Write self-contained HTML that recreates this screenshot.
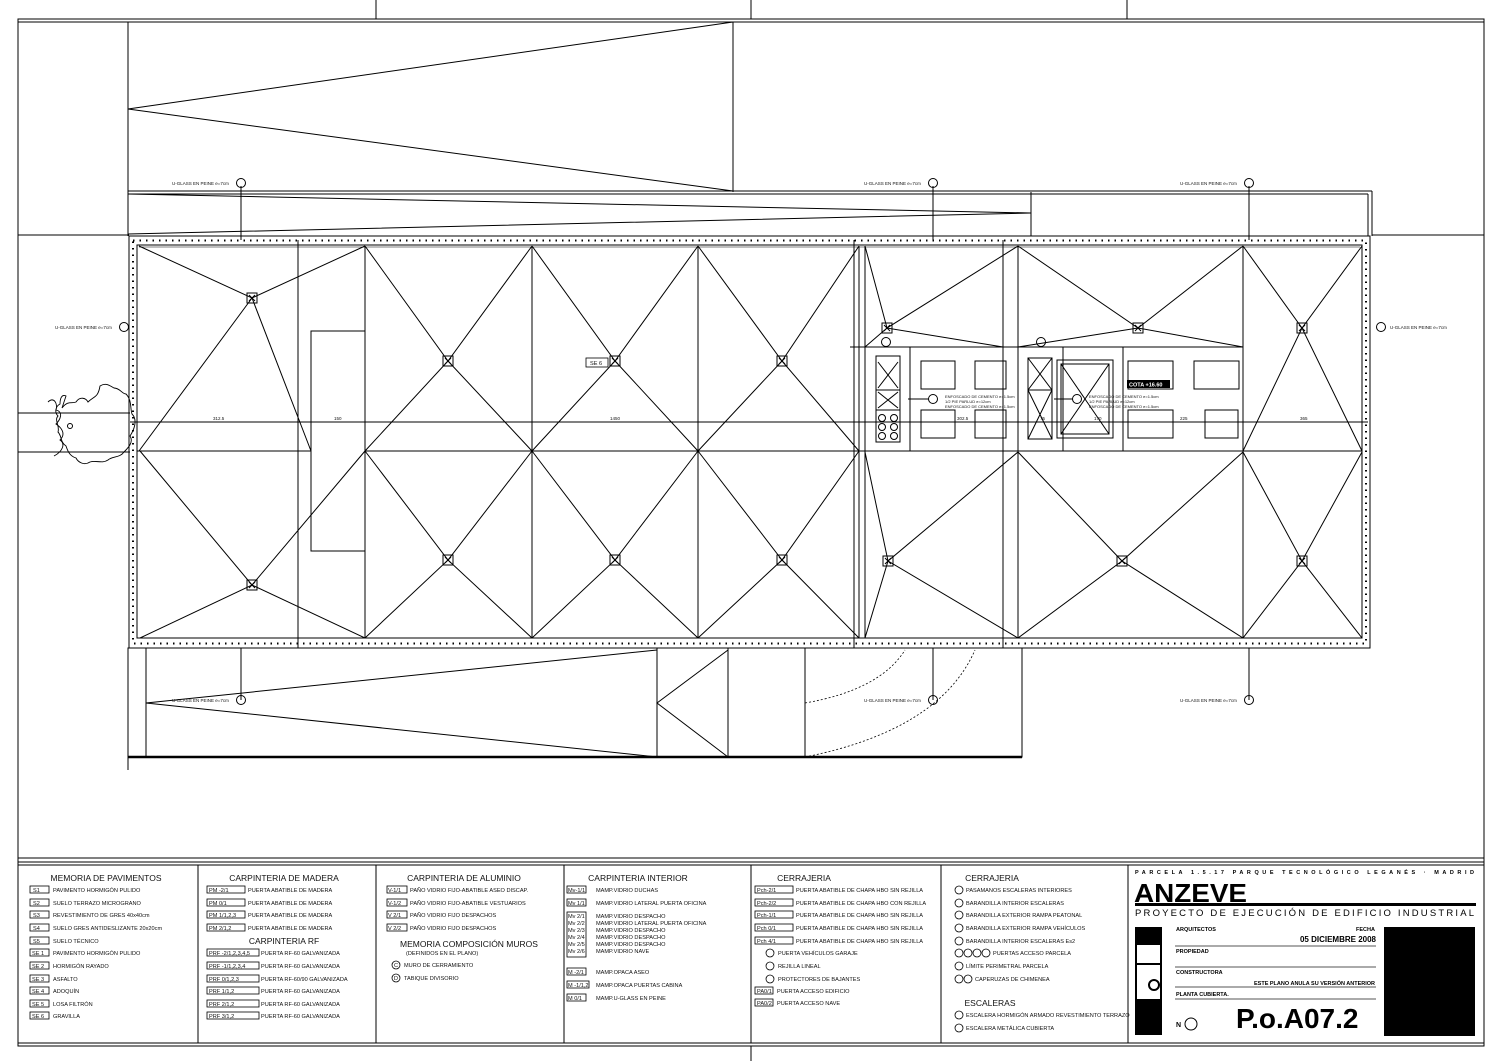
<!DOCTYPE html>
<html><head><meta charset="utf-8"><style>
html,body{margin:0;padding:0;background:#fff;}
svg{display:block;font-family:"Liberation Sans",sans-serif;}
.t{font-size:5.6px;fill:#111;}
.h{font-size:8.5px;fill:#111;}
</style></head><body>
<svg width="1500" height="1061" viewBox="0 0 1500 1061" xmlns="http://www.w3.org/2000/svg">
<g fill="none" stroke="#000" stroke-width="1">
<rect x="18" y="19" width="1466" height="1027"/>
<line x1="18" y1="22" x2="1484" y2="22"/>
<line x1="376" y1="0" x2="376" y2="19"/><line x1="751" y1="0" x2="751" y2="19"/><line x1="1127" y1="0" x2="1127" y2="19"/>
<line x1="751" y1="1046" x2="751" y2="1061"/>
<line x1="18" y1="235" x2="129" y2="235"/><line x1="1372" y1="235" x2="1484" y2="235"/>
<line x1="128" y1="22" x2="128" y2="236"/>
<line x1="733" y1="22" x2="733" y2="192"/>
<polyline points="733,22 128,109 733,191"/>
<line x1="128" y1="191" x2="1372" y2="191"/>
<line x1="128" y1="194" x2="1368" y2="194"/>
<line x1="1372" y1="191" x2="1372" y2="236"/><line x1="1368" y1="194" x2="1368" y2="236"/>
<polyline points="128,194 1031,213 128,234"/>
<line x1="1031" y1="192" x2="1031" y2="236"/>
<line x1="18" y1="413" x2="130" y2="413"/><line x1="18" y1="452" x2="130" y2="452"/>
<path d="M48,402 c6,-6 10,2 8,8 c8,2 4,10 0,14 c6,4 10,10 4,16 c6,4 2,12 -6,16 M62,408 c6,-8 10,-4 14,-6 c4,-6 10,-4 12,0 c6,-6 10,-4 12,-16 c6,-4 10,0 14,2 c6,0 8,6 12,6 c6,6 4,14 6,20 c6,6 2,16 -2,22 c4,6 -2,12 -6,16 c-4,6 -12,4 -16,8 c-6,4 -12,0 -18,2 c-6,4 -12,0 -14,-4 c-6,-2 -8,-6 -10,-12 c-6,-4 -4,-10 -8,-14 c2,-6 -4,-12 0,-16 c-4,-4 -2,-10 2,-12 c0,-6 2,-10 6,-8z" stroke-width="0.9"/>
<circle cx="70" cy="426" r="2.5"/>
<rect x="129" y="236" width="1241" height="412"/>
<rect x="137" y="245" width="1225" height="393"/>
<rect x="133" y="240.5" width="1233" height="403" stroke-width="2" stroke-dasharray="1.5 5"/>
<line x1="139" y1="247" x2="1360" y2="247" stroke-width="0.6"/>
<line x1="365" y1="246" x2="365" y2="638"/><line x1="532" y1="246" x2="532" y2="638"/>
<line x1="698" y1="246" x2="698" y2="638"/><line x1="859" y1="246" x2="859" y2="638"/>
<line x1="865" y1="246" x2="865" y2="638"/><line x1="1018" y1="246" x2="1018" y2="638"/>
<line x1="1243" y1="246" x2="1243" y2="638"/>
<line x1="298" y1="240" x2="298" y2="648"/><line x1="854" y1="240" x2="854" y2="648"/><line x1="1003" y1="240" x2="1003" y2="648"/>
<line x1="137" y1="451" x2="311" y2="451"/><line x1="365" y1="451" x2="1362" y2="451"/>
<line x1="130" y1="422" x2="1368" y2="422"/>
<rect x="311" y="331" width="54" height="220"/>
<polyline points="139,246 252,298 365,246"/><polyline points="139,451 252,298 311,451"/>
<polyline points="140,451 252,585 365,451"/><polyline points="140,638 252,585 365,638"/>
<polyline points="365,246 448,361 532,246"/><polyline points="365,451 448,361 532,451"/>
<polyline points="532,246 615,361 698,246"/><polyline points="532,451 615,361 698,451"/>
<polyline points="698,246 782,361 859,246"/><polyline points="698,451 782,361 859,451"/>
<polyline points="365,451 448,560 532,451"/><polyline points="365,638 448,560 532,638"/>
<polyline points="532,451 615,560 698,451"/><polyline points="532,638 615,560 698,638"/>
<polyline points="698,451 782,560 859,451"/><polyline points="698,638 782,560 859,638"/>
<polyline points="865,246 887,328 1018,246"/><polyline points="865,347 887,328 1003,347"/>
<polyline points="1018,246 1138,328 1243,246"/><polyline points="1018,347 1138,328 1243,347"/>
<polyline points="1243,246 1302,328 1362,246"/><polyline points="1243,451 1302,328 1362,451"/>
<polyline points="865,452 888,561 1018,452"/><polyline points="865,638 888,561 1018,638"/>
<polyline points="1018,452 1122,561 1243,452"/><polyline points="1018,638 1122,561 1243,638"/>
<polyline points="1243,452 1302,561 1362,452"/><polyline points="1243,638 1302,561 1362,638"/>
<line x1="850" y1="347" x2="1243" y2="347"/>
<line x1="910" y1="347" x2="910" y2="451"/><line x1="1063" y1="347" x2="1063" y2="451"/><line x1="1123" y1="347" x2="1123" y2="451"/>
<rect x="921" y="361" width="34" height="28"/><rect x="975" y="361" width="31" height="28"/>
<rect x="1128" y="361" width="45" height="28"/><rect x="1194" y="361" width="45" height="28"/>
<rect x="921" y="410" width="34" height="28"/><rect x="975" y="410" width="31" height="28"/>
<rect x="1128" y="410" width="45" height="28"/><rect x="1205" y="410" width="33" height="28"/>
<rect x="876" y="356" width="24" height="86"/>
<path d="M878,362 L898,388 M898,362 L878,388 M878,392 L898,408 M898,392 L878,408 M876,390 H900 M876,410 H900"/>
<circle cx="882" cy="418" r="3.5"/><circle cx="894" cy="418" r="3.5"/><circle cx="882" cy="427" r="3.5"/><circle cx="894" cy="427" r="3.5"/><circle cx="882" cy="436" r="3.5"/><circle cx="894" cy="436" r="3.5"/>
<rect x="1028" y="358" width="24" height="81"/><path d="M1028,358 L1052,390 M1052,358 L1028,390 M1028,390 L1052,439 M1052,390 L1028,439 M1028,390 H1052"/>
<rect x="1057" y="360" width="56" height="78"/><rect x="1061" y="364" width="48" height="70"/><path d="M1061,364 L1109,434 M1109,364 L1061,434"/>
<line x1="908" y1="399" x2="929" y2="399"/><circle cx="933" cy="399" r="4.5"/>
<line x1="1054" y1="399" x2="1073" y2="399"/><circle cx="1077" cy="399" r="4.5"/>
<circle cx="886" cy="342" r="4.5"/><circle cx="1041" cy="342" r="4.5"/>
<g stroke-width="1">
<rect x="247" y="293" width="10" height="10"/><rect x="247" y="580" width="10" height="10"/>
<rect x="443" y="356" width="10" height="10"/><rect x="610" y="356" width="10" height="10"/><rect x="777" y="356" width="10" height="10"/>
<rect x="443" y="555" width="10" height="10"/><rect x="610" y="555" width="10" height="10"/><rect x="777" y="555" width="10" height="10"/>
<rect x="882" y="323" width="10" height="10"/><rect x="1133" y="323" width="10" height="10"/><rect x="1297" y="323" width="10" height="10"/>
<rect x="883" y="556" width="10" height="10"/><rect x="1117" y="556" width="10" height="10"/><rect x="1297" y="556" width="10" height="10"/>
<path d="M249,295l6,6m0,-6l-6,6 M249,582l6,6m0,-6l-6,6 M445,358l6,6m0,-6l-6,6 M612,358l6,6m0,-6l-6,6 M779,358l6,6m0,-6l-6,6 M445,557l6,6m0,-6l-6,6 M612,557l6,6m0,-6l-6,6 M779,557l6,6m0,-6l-6,6 M884,325l6,6m0,-6l-6,6 M1135,325l6,6m0,-6l-6,6 M1299,325l6,6m0,-6l-6,6 M885,558l6,6m0,-6l-6,6 M1119,558l6,6m0,-6l-6,6 M1299,558l6,6m0,-6l-6,6"/>
</g>
<rect x="128" y="648" width="894" height="109"/>
<line x1="128" y1="757" x2="1022" y2="757" stroke-width="2.5"/>
<line x1="128" y1="757" x2="128" y2="770"/>
<line x1="146" y1="648" x2="146" y2="757"/>
<polyline points="657,650 146,703 657,757"/>
<line x1="657" y1="648" x2="657" y2="757"/><line x1="728" y1="648" x2="728" y2="757"/><line x1="805" y1="648" x2="805" y2="757"/>
<polyline points="728,650 657,703 728,757"/>
<path d="M805,703 Q880,690 905,650 M805,757 Q940,730 975,650" stroke-dasharray="2 2" stroke-width="0.8"/>
<line x1="241" y1="186" x2="241" y2="240"/><line x1="933" y1="186" x2="933" y2="240"/><line x1="1249" y1="186" x2="1249" y2="240"/>
<line x1="241" y1="648" x2="241" y2="700"/><line x1="933" y1="648" x2="933" y2="700"/><line x1="1249" y1="648" x2="1249" y2="700"/>
<circle cx="241" cy="183" r="4.5"/><circle cx="933" cy="183" r="4.5"/><circle cx="1249" cy="183" r="4.5"/>
<circle cx="241" cy="700" r="4.5"/><circle cx="933" cy="700" r="4.5"/><circle cx="1249" cy="700" r="4.5"/>
<circle cx="124" cy="327" r="4.5"/><circle cx="1381" cy="327" r="4.5"/>
<line x1="18" y1="858" x2="1484" y2="858"/><line x1="18" y1="862" x2="1484" y2="862"/>
<line x1="18" y1="865" x2="1484" y2="865"/>
<line x1="18" y1="1043" x2="1484" y2="1043"/>
<line x1="198" y1="865" x2="198" y2="1043"/><line x1="376" y1="865" x2="376" y2="1043"/>
<line x1="564" y1="865" x2="564" y2="1043"/><line x1="751" y1="865" x2="751" y2="1043"/>
<line x1="941" y1="865" x2="941" y2="1043"/><line x1="1128" y1="865" x2="1128" y2="1043"/>
</g>
<g fill="none" stroke="#000" stroke-width="0.8">
<rect x="30" y="886" width="19" height="7"/><rect x="30" y="899" width="19" height="7"/><rect x="30" y="911" width="19" height="7"/><rect x="30" y="924" width="19" height="7"/><rect x="30" y="937" width="19" height="7"/><rect x="30" y="949" width="19" height="7"/><rect x="30" y="962" width="19" height="7"/><rect x="30" y="975" width="19" height="7"/><rect x="30" y="987" width="19" height="7"/><rect x="30" y="1000" width="19" height="7"/><rect x="30" y="1012" width="19" height="7"/>
<rect x="207" y="886" width="38" height="7"/><rect x="207" y="899" width="38" height="7"/><rect x="207" y="911" width="38" height="7"/><rect x="207" y="924" width="38" height="7"/>
<rect x="207" y="949" width="52" height="7"/><rect x="207" y="962" width="52" height="7"/><rect x="207" y="975" width="52" height="7"/><rect x="207" y="987" width="52" height="7"/><rect x="207" y="1000" width="52" height="7"/><rect x="207" y="1012" width="52" height="7"/>
<rect x="387" y="886" width="20" height="7"/><rect x="387" y="899" width="20" height="7"/><rect x="387" y="911" width="20" height="7"/><rect x="387" y="924" width="20" height="7"/>
<circle cx="396" cy="965" r="4"/><circle cx="396" cy="978" r="4"/>
<rect x="567" y="886" width="19" height="7"/><rect x="567" y="899" width="19" height="7"/>
<rect x="567" y="912" width="19" height="45"/>
<rect x="567" y="968" width="19" height="7"/><rect x="567" y="981" width="22" height="7"/><rect x="567" y="994" width="19" height="7"/>
<rect x="755" y="886" width="38" height="7"/><rect x="755" y="899" width="38" height="7"/><rect x="755" y="911" width="38" height="7"/><rect x="755" y="924" width="38" height="7"/><rect x="755" y="937" width="38" height="7"/>
<circle cx="770" cy="953" r="4"/><circle cx="770" cy="966" r="4"/><circle cx="770" cy="979" r="4"/>
<rect x="755" y="987" width="18" height="7"/><rect x="755" y="999" width="18" height="7"/>
<circle cx="959" cy="890" r="4"/><circle cx="959" cy="903" r="4"/><circle cx="959" cy="915" r="4"/><circle cx="959" cy="928" r="4"/><circle cx="959" cy="941" r="4"/>
<circle cx="959" cy="953" r="4"/><circle cx="968" cy="953" r="4"/><circle cx="977" cy="953" r="4"/><circle cx="986" cy="953" r="4"/>
<circle cx="959" cy="966" r="4"/><circle cx="959" cy="979" r="4"/><circle cx="968" cy="979" r="4"/>
<circle cx="959" cy="1015" r="4"/><circle cx="959" cy="1028" r="4"/>
</g>
<g class="t">
<text x="53" y="892">PAVIMENTO HORMIGÓN PULIDO</text><text x="53" y="905">SUELO TERRAZO MICROGRANO</text><text x="53" y="917">REVESTIMIENTO DE GRES 40x40cm</text><text x="53" y="930">SUELO GRES ANTIDESLIZANTE 20x20cm</text><text x="53" y="943">SUELO TÉCNICO</text><text x="53" y="955">PAVIMENTO HORMIGÓN PULIDO</text><text x="53" y="968">HORMIGÓN RAYADO</text><text x="53" y="981">ASFALTO</text><text x="53" y="993">ADOQUÍN</text><text x="53" y="1006">LOSA FILTRÓN</text><text x="53" y="1018">GRAVILLA</text>
<text x="33" y="892">S1</text><text x="33" y="905">S2</text><text x="33" y="917">S3</text><text x="33" y="930">S4</text><text x="33" y="943">S5</text><text x="32" y="955">SE 1</text><text x="32" y="968">SE 2</text><text x="32" y="981">SE 3</text><text x="32" y="993">SE 4</text><text x="32" y="1006">SE 5</text><text x="32" y="1018">SE 6</text>
<text x="209" y="892">PM -2/1</text><text x="209" y="905">PM 0/1</text><text x="209" y="917">PM 1/1,2,3</text><text x="209" y="930">PM 2/1,2</text>
<text x="248" y="892">PUERTA ABATIBLE DE MADERA</text><text x="248" y="905">PUERTA ABATIBLE DE MADERA</text><text x="248" y="917">PUERTA ABATIBLE DE MADERA</text><text x="248" y="930">PUERTA ABATIBLE DE MADERA</text>
<text x="209" y="955">PRF -2/1,2,3,4,5</text><text x="209" y="968">PRF -1/1,2,3,4</text><text x="209" y="981">PRF 0/1,2,3</text><text x="209" y="993">PRF 1/1,2</text><text x="209" y="1006">PRF 2/1,2</text><text x="209" y="1018">PRF 3/1,2</text>
<text x="261" y="955">PUERTA RF-60 GALVANIZADA</text><text x="261" y="968">PUERTA RF-60 GALVANIZADA</text><text x="261" y="981">PUERTA RF-60/90 GALVANIZADA</text><text x="261" y="993">PUERTA RF-60 GALVANIZADA</text><text x="261" y="1006">PUERTA RF-60 GALVANIZADA</text><text x="261" y="1018">PUERTA RF-60 GALVANIZADA</text>
<text x="388" y="892">V-1/1</text><text x="388" y="905">V-1/2</text><text x="388" y="917">V 2/1</text><text x="388" y="930">V 2/2</text>
<text x="410" y="892">PAÑO VIDRIO FIJO-ABATIBLE ASEO DISCAP.</text><text x="410" y="905">PAÑO VIDRIO FIJO-ABATIBLE VESTUARIOS</text><text x="410" y="917">PAÑO VIDRIO FIJO DESPACHOS</text><text x="410" y="930">PAÑO VIDRIO FIJO DESPACHOS</text>
<text x="406" y="955">(DEFINIDOS EN EL PLANO)</text><text x="404" y="967">MURO DE CERRAMIENTO</text><text x="404" y="980">TABIQUE DIVISORIO</text><text x="394" y="967">C</text><text x="394" y="980">D</text>
<text x="568" y="892">Mv-1/1</text><text x="568" y="905">Mv 1/1</text><text x="568" y="918">Mv 2/1</text><text x="568" y="925">Mv 2/2</text><text x="568" y="932">Mv 2/3</text><text x="568" y="939">Mv 2/4</text><text x="568" y="946">Mv 2/5</text><text x="568" y="953">Mv 2/6</text>
<text x="596" y="892">MAMP.VIDRIO DUCHAS</text><text x="596" y="905">MAMP.VIDRIO LATERAL PUERTA OFICINA</text><text x="596" y="918">MAMP.VIDRIO DESPACHO</text><text x="596" y="925">MAMP.VIDRIO LATERAL PUERTA OFICINA</text><text x="596" y="932">MAMP.VIDRIO DESPACHO</text><text x="596" y="939">MAMP.VIDRIO DESPACHO</text><text x="596" y="946">MAMP.VIDRIO DESPACHO</text><text x="596" y="953">MAMP.VIDRIO NAVE</text>
<text x="568" y="974">M -2/1</text><text x="568" y="987">M -1/1,2</text><text x="568" y="1000">M 0/1</text>
<text x="596" y="974">MAMP.OPACA ASEO</text><text x="596" y="987">MAMP.OPACA PUERTAS CABINA</text><text x="596" y="1000">MAMP.U-GLASS EN PEINE</text>
<text x="757" y="892">Pch-2/1</text><text x="757" y="905">Pch-2/2</text><text x="757" y="917">Pch-1/1</text><text x="757" y="930">Pch 0/1</text><text x="757" y="943">Pch 4/1</text>
<text x="796" y="892">PUERTA ABATIBLE DE CHAPA HBO SIN REJILLA</text><text x="796" y="905">PUERTA ABATIBLE DE CHAPA HBO CON REJILLA</text><text x="796" y="917">PUERTA ABATIBLE DE CHAPA HBO SIN REJILLA</text><text x="796" y="930">PUERTA ABATIBLE DE CHAPA HBO SIN REJILLA</text><text x="796" y="943">PUERTA ABATIBLE DE CHAPA HBO SIN REJILLA</text>
<text x="778" y="955">PUERTA VEHÍCULOS GARAJE</text><text x="778" y="968">REJILLA LINEAL</text><text x="778" y="981">PROTECTORES DE BAJANTES</text>
<text x="757" y="993">PA0/1</text><text x="757" y="1005">PA0/2</text><text x="777" y="993">PUERTA ACCESO EDIFICIO</text><text x="777" y="1005">PUERTA ACCESO NAVE</text>
<text x="966" y="892">PASAMANOS ESCALERAS INTERIORES</text><text x="966" y="905">BARANDILLA  INTERIOR ESCALERAS</text><text x="966" y="917">BARANDILLA  EXTERIOR RAMPA PEATONAL</text><text x="966" y="930">BARANDILLA  EXTERIOR RAMPA VEHÍCULOS</text><text x="966" y="943">BARANDILLA  INTERIOR ESCALERAS Es2</text><text x="993" y="955">PUERTAS ACCESO PARCELA</text><text x="966" y="968">LÍMITE PERIMETRAL PARCELA</text><text x="975" y="981">CAPERUZAS DE CHIMENEA</text>
<text x="966" y="1017">ESCALERA HORMIGÓN ARMADO REVESTIMIENTO TERRAZO</text><text x="966" y="1030">ESCALERA METÁLICA CUBIERTA</text>
<text x="172" y="185" style="font-size:4.5px">U-GLASS EN PEINE e=7cm</text><text x="864" y="185" style="font-size:4.5px">U-GLASS EN PEINE e=7cm</text><text x="1180" y="185" style="font-size:4.5px">U-GLASS EN PEINE e=7cm</text>
<text x="172" y="702" style="font-size:4.5px">U-GLASS EN PEINE e=7cm</text><text x="864" y="702" style="font-size:4.5px">U-GLASS EN PEINE e=7cm</text><text x="1180" y="702" style="font-size:4.5px">U-GLASS EN PEINE e=7cm</text>
<text x="55" y="329" style="font-size:4.5px">U-GLASS EN PEINE e=7cm</text><text x="1390" y="329" style="font-size:4.5px">U-GLASS EN PEINE e=7cm</text>
<text x="213" y="420" style="font-size:4.5px">312.5</text><text x="334" y="420" style="font-size:4.5px">150</text><text x="610" y="420" style="font-size:4.5px">1450</text><text x="957" y="420" style="font-size:4.5px">302.5</text><text x="1040" y="420" style="font-size:4.5px">75</text><text x="1094" y="420" style="font-size:4.5px">170</text><text x="1180" y="420" style="font-size:4.5px">225</text><text x="1300" y="420" style="font-size:4.5px">365</text>
<text x="945" y="398" style="font-size:4px">ENFOSCADO DE CEMENTO e=1.5cm</text><text x="945" y="403" style="font-size:4px">1/2 PIE PARLUD e=12cm</text><text x="945" y="408" style="font-size:4px">ENFOSCADO DE CEMENTO e=1.5cm</text>
<text x="1089" y="398" style="font-size:4px">ENFOSCADO DE CEMENTO e=1.5cm</text><text x="1089" y="403" style="font-size:4px">1/2 PIE PARLUD e=12cm</text><text x="1089" y="408" style="font-size:4px">ENFOSCADO DE CEMENTO e=1.5cm</text>
</g>
<rect x="1127" y="380" width="43" height="8" fill="#000"/><text x="1129" y="386.5" style="font-size:5.5px;font-weight:bold" fill="#fff">COTA +16.60</text>
<rect x="586" y="358" width="22" height="9" fill="#fff" stroke="#000" stroke-width="0.8"/><text x="590" y="365" class="t">SE 6</text>
<g class="h" text-anchor="middle">
<text x="106" y="881">MEMORIA DE PAVIMENTOS</text><text x="284" y="881">CARPINTERIA DE MADERA</text><text x="284" y="944">CARPINTERIA RF</text><text x="464" y="881">CARPINTERIA DE ALUMINIO</text><text x="469" y="947">MEMORIA COMPOSICIÓN MUROS</text><text x="638" y="881">CARPINTERIA INTERIOR</text><text x="804" y="881">CERRAJERIA</text><text x="992" y="881">CERRAJERIA</text><text x="990" y="1006">ESCALERAS</text>
</g>
<text x="1135" y="874" textLength="339" lengthAdjust="spacing" style="font-size:5.5px;font-weight:bold">PARCELA 1.5.17 PARQUE TECNOLÓGICO LEGANÉS · MADRID</text>
<text x="1134" y="902" textLength="113" lengthAdjust="spacingAndGlyphs" style="font-size:26px;font-weight:bold">ANZEVE</text>
<rect x="1135" y="903" width="341" height="3" fill="#000"/>
<text x="1135" y="916" textLength="339" lengthAdjust="spacing" style="font-size:9.5px">PROYECTO DE EJECUCIÓN DE EDIFICIO INDUSTRIAL</text>
<rect x="1135" y="927" width="27" height="108" fill="#000"/>
<rect x="1137" y="945" width="23" height="18" fill="#fff"/><rect x="1137" y="965" width="23" height="34" fill="#fff"/>
<circle cx="1154" cy="985" r="5" fill="none" stroke="#000" stroke-width="2"/>
<rect x="1384" y="927" width="91" height="109" fill="#000"/>
<g stroke="#555" stroke-width="1"><line x1="1175" y1="946" x2="1376" y2="946"/><line x1="1175" y1="967" x2="1376" y2="967"/><line x1="1175" y1="987" x2="1376" y2="987"/><line x1="1175" y1="999" x2="1376" y2="999"/></g>
<g style="font-size:5.5px;font-weight:bold">
<text x="1176" y="931">ARQUITECTOS</text><text x="1356" y="931">FECHA</text><text x="1176" y="953">PROPIEDAD</text><text x="1176" y="974">CONSTRUCTORA</text><text x="1176" y="996">PLANTA CUBIERTA.</text>
<text x="1254" y="985">ESTE PLANO ANULA SU VERSIÓN ANTERIOR</text>
</g>
<text x="1376" y="942" text-anchor="end" style="font-size:8px;font-weight:bold">05 DICIEMBRE 2008</text>
<text x="1176" y="1027" style="font-size:7px;font-weight:bold">N</text><circle cx="1191" cy="1024" r="6" fill="none" stroke="#000"/>
<text x="1236" y="1028" style="font-size:28px;font-weight:bold">P.o.A07.2</text>
</svg>
</body></html>
